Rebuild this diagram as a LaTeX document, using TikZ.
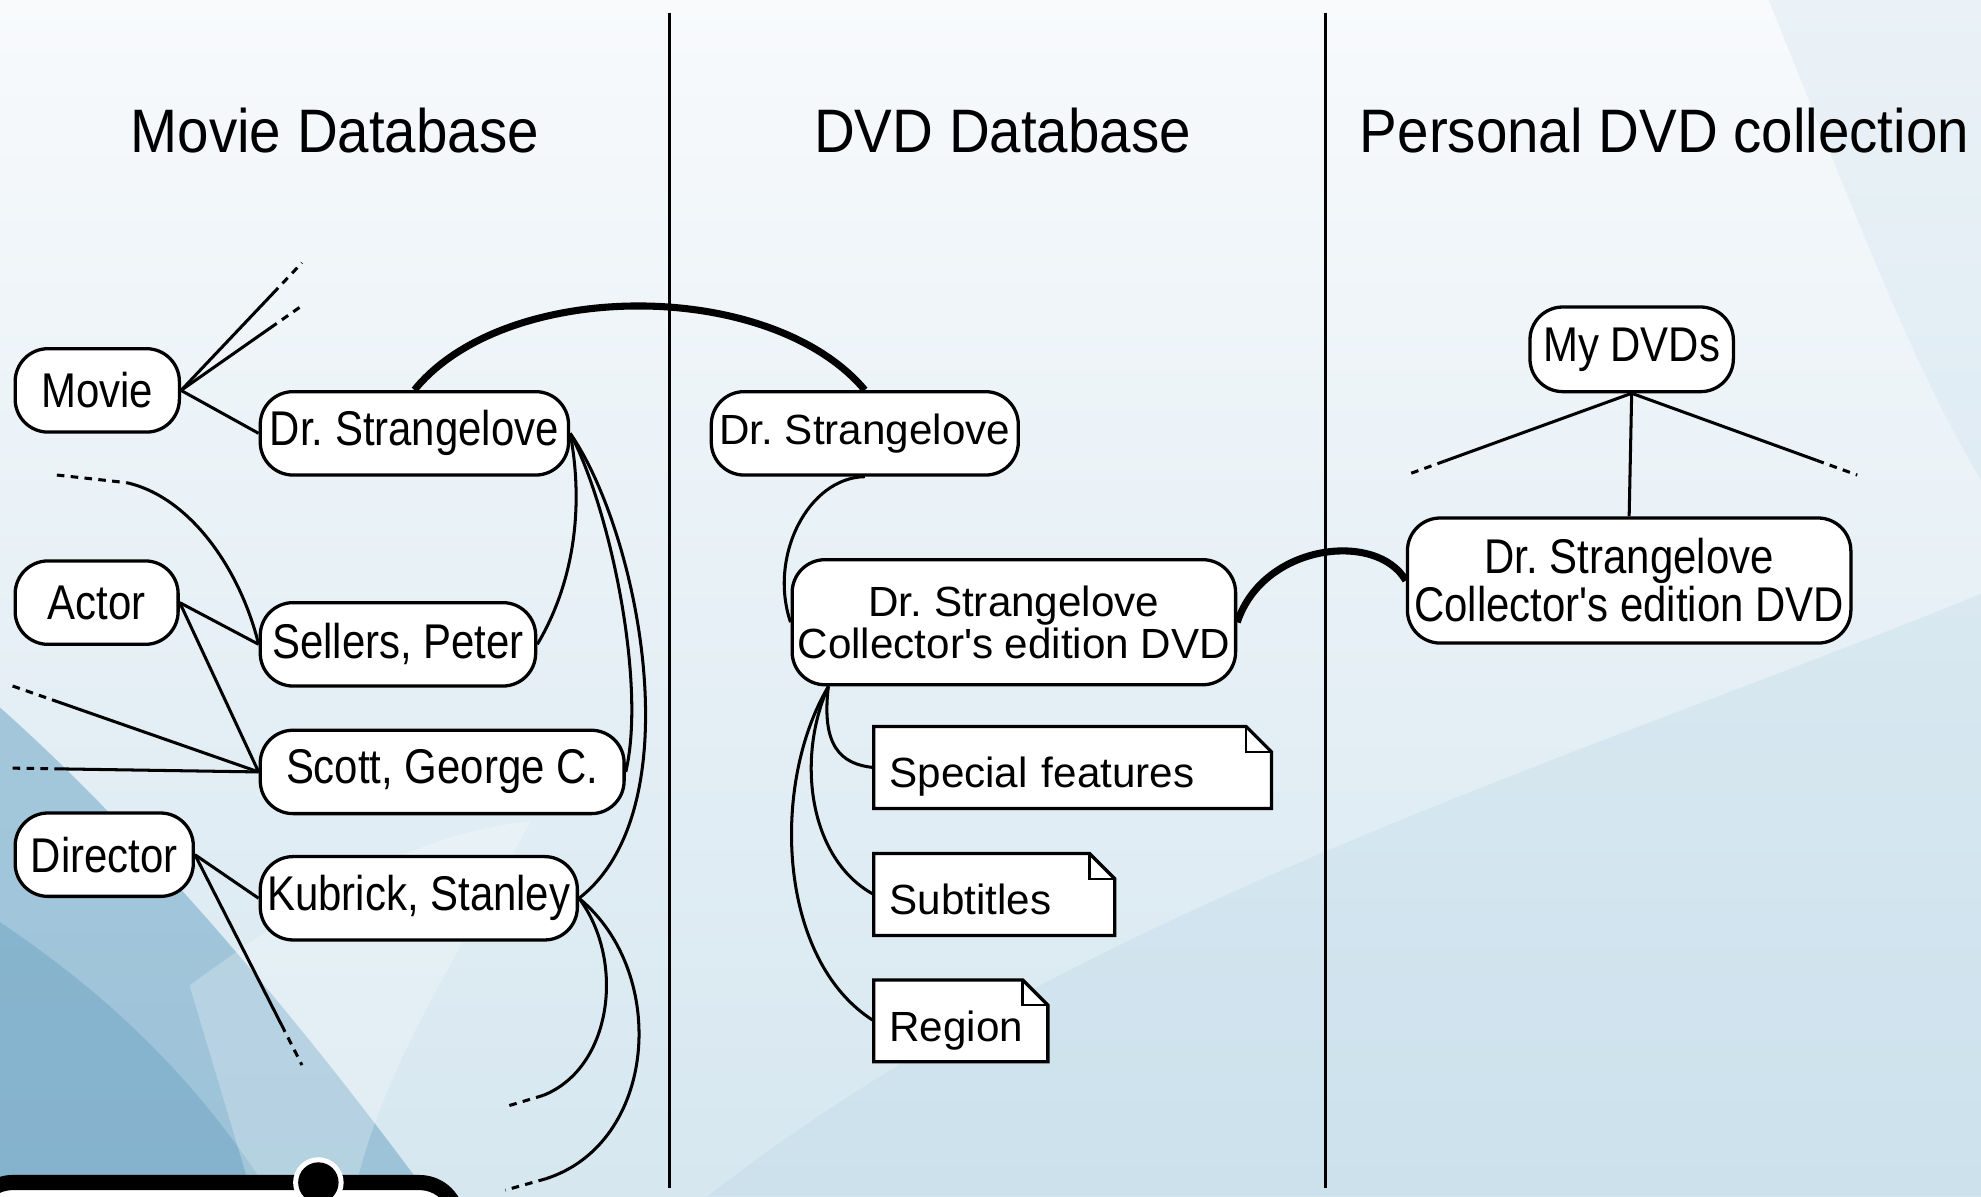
\documentclass[tikz,border=0pt]{standalone}
\usepackage{fontspec}
\setmainfont{Liberation Sans}
\newfontfamily\condfont[FakeStretch=0.86]{Liberation Sans}
\newfontfamily\titlefont[FakeStretch=0.92]{Liberation Sans}
\newfontfamily\plainfont{Liberation Sans}
\usetikzlibrary{calc}
\pgfdeclarelayer{bg}
\pgfdeclarelayer{edges}
\pgfdeclarelayer{notes}
\pgfsetlayers{bg,edges,notes,main}
\definecolor{bgtop}{HTML}{F8FAFC}
\definecolor{bgbot}{HTML}{D6E7F0}
\definecolor{blueA}{HTML}{6FA6C6}
\definecolor{blueB}{HTML}{4F8DB3}
\definecolor{blueC}{HTML}{B5D4E5}
\tikzset{
  box/.style={draw=black, fill=white, line width=1.3pt, rounded corners=13pt, minimum height=33pt, inner sep=2pt},
  condtext/.style={font=\condfont\fontsize{19.3}{16.5}\selectfont},
  midtext/.style={font=\plainfont\fontsize{16.7}{16.5}\selectfont},
  titletext/.style={font=\titlefont\fontsize{24.3}{26}\selectfont, anchor=base},
  conn/.style={line width=1.2pt, draw=black},
  heavyconn/.style={line width=2.8pt, draw=black},
  tail/.style={line width=1.2pt, draw=black, dash pattern=on 3pt off 2.5pt},
  notebox/.style={minimum height=32pt, inner xsep=6pt, inner ysep=0pt, text height=16pt, text depth=0pt, align=left, midtext},
  sep/.style={line width=1pt, draw=black}
}
\begin{document}
\frenchspacing
\begin{tikzpicture}[x=0.5pt, y=-0.5pt]
\useasboundingbox (0,0) rectangle (1568,947);
\begin{pgfonlayer}{bg}
\begin{scope}
\clip (0,0) rectangle (1568,947);
\fill[top color=bgtop, bottom color=bgbot] (0,0) rectangle (1568,947);
\fill[blueC, opacity=.28] (560,947) .. controls (850,720) and (1250,600) .. (1568,470) -- (1568,947) -- cycle;
\fill[blueC, opacity=.2] (1400,0) .. controls (1480,200) and (1520,300) .. (1568,380) -- (1568,0) -- cycle;
\fill[blueA, opacity=.55] (0,560) .. controls (90,640) and (210,770) .. (340,947) -- (0,947) -- cycle;
\fill[blueB, opacity=.3] (0,730) .. controls (90,790) and (160,860) .. (215,947) -- (0,947) -- cycle;
\fill[white, opacity=.25] (150,780) .. controls (260,700) and (330,660) .. (420,650) .. controls (360,760) and (300,850) .. (280,947) -- (200,947) -- cycle;
\draw[line width=6pt, fill=white, rounded corners=15pt] (-20,936) rectangle (362,1010);
\fill[white] (252,936) circle (20);
\fill[black] (252,936) circle (16);
\end{scope}
\end{pgfonlayer}

% separators
\draw[sep] (530,10) -- (530,940);
\draw[sep] (1049,10) -- (1049,940);

% titles
\node[titletext] (t1) at (265,121) {Movie Database};
\node[titletext] (t2) at (793.5,121) {DVD Database};
\node[titletext] (t3) at (1317.5,121) {Personal DVD collection};

% movie database
\node[box, condtext, minimum width=65pt] (movie) at (77,309) {Movie};
\node[box, condtext, minimum width=122pt] (drsm) at (328,343) {Dr. Strangelove};
\node[box, condtext, minimum width=64.5pt] (actor) at (76.5,477) {Actor};
\node[box, condtext, minimum width=109pt] (sellers) at (315,510) {Sellers, Peter};
\node[box, condtext, minimum width=144pt] (scott) at (350,611) {Scott, George C.};
\node[box, condtext, minimum width=70.5pt] (director) at (82.5,676.5) {Director};
\node[box, condtext, minimum width=125.5pt] (kubrick) at (331.5,711) {Kubrick, Stanley};

% dvd database
\node[box, midtext, minimum width=121.5pt] (drsd) at (684.5,343) {Dr. Strangelove};
\node[box, midtext, minimum width=175.5pt, minimum height=49.5pt, align=center] (colld) at (802.5,492.5) {Dr. Strangelove\\Collector's edition DVD};
\node[notebox, text width=145pt] (sf) at (849,607.5) {Special features};
\node[notebox, text width=83pt] (sub) at (787,708) {Subtitles};
\node[notebox, text width=56.5pt] (reg) at (760.5,808) {Region};

% personal collection
\node[box, condtext, minimum width=80.5pt, minimum height=33.5pt] (mydvds) at (1291.5,276.5) {My DVDs};
\node[box, condtext, minimum width=175.5pt, minimum height=49.5pt, align=center] (collp) at (1289.5,459.5) {Dr. Strangelove\\Collector's edition DVD};

% free ends
\coordinate (m1) at (239,208);
\coordinate (m2) at (239,242);
\coordinate (a1) at (45,376);
\coordinate (a1s) at (100,382);
\coordinate (s1) at (10,543);
\coordinate (s2) at (10,608);
\coordinate (d1) at (239,843);
\coordinate (k1s) at (430,867);
\coordinate (k1) at (400,876);
\coordinate (k2s) at (432,933);
\coordinate (k2) at (400,942);
\coordinate (p1) at (1113,376);
\coordinate (p2) at (1470,376);
\coordinate (cs) at ([xshift=15pt]colld.south west);

\begin{pgfonlayer}{notes}
\foreach \n in {sf,sub,reg} {
  \draw[line width=1.3pt, fill=white] (\n.south west) -- (\n.north west) -- ([xshift=-10pt]\n.north east) -- ([yshift=-10pt]\n.north east) -- (\n.south east) -- cycle;
  \draw[line width=0.9pt] ([xshift=-10pt]\n.north east) |- ([yshift=-10pt]\n.north east);
}
\end{pgfonlayer}

\begin{pgfonlayer}{edges}
% movie
\draw[conn] (movie.east) -- (drsm.west);
\draw[conn] (movie.east) -- ($(movie.east)!0.76!(m1)$) coordinate (m1s);
\draw[tail] (m1s) -- (m1);
\draw[conn] (movie.east) -- ($(movie.east)!0.74!(m2)$) coordinate (m2s);
\draw[tail] (m2s) -- (m2);
% actor
\draw[conn] (actor.east) -- (sellers.west);
\draw[conn] (actor.east) -- (scott.west);
\draw[tail] (a1) -- (a1s);
\draw[conn] (a1s) .. controls (150,393) and (190,450) .. (sellers.west);
\draw[tail] (s1) -- ($(s1)!0.16!(scott.west)$) coordinate (s1s);
\draw[conn] (s1s) -- (scott.west);
\draw[tail] (s2) -- ($(s2)!0.18!(scott.west)$) coordinate (s2s);
\draw[conn] (s2s) -- (scott.west);
% director
\draw[conn] (director.east) -- (kubrick.west);
\draw[conn] (director.east) -- ($(director.east)!0.81!(d1)$) coordinate (d1s);
\draw[tail] (d1s) -- (d1);
% movie to people
\draw[conn] (drsm.east) .. controls (462,400) and (455,460) .. (sellers.east);
\draw[conn] (drsm.east) .. controls (482,400) and (512,540) .. (scott.east);
\draw[conn] (drsm.east) .. controls (505,420) and (550,640) .. (kubrick.east);
% kubrick tails
\draw[conn] (kubrick.east) .. controls (495,760) and (485,845) .. (k1s);
\draw[tail] (k1s) -- (k1);
\draw[conn] (kubrick.east) .. controls (530,770) and (520,905) .. (k2s);
\draw[tail] (k2s) -- (k2);
% cross-database links
\draw[heavyconn] (drsm.north) .. controls (400,220) and (610,220) .. (drsd.north);
\draw[heavyconn] (colld.east) .. controls (1000,430) and (1090,420) .. (collp.west);
% dvd database
\draw[conn] (drsd.south) .. controls (640,378) and (608,440) .. (colld.west);
\draw[conn] (cs) .. controls (650,590) and (665,605) .. (sf.west);
\draw[conn] (cs) .. controls (630,600) and (640,680) .. (sub.west);
\draw[conn] (cs) .. controls (610,620) and (615,760) .. (reg.west);
% personal
\draw[conn] (mydvds.south) -- (collp.north);
\draw[conn] (mydvds.south) -- ($(mydvds.south)!0.83!(p1)$) coordinate (p1s);
\draw[tail] (p1s) -- (p1);
\draw[conn] (mydvds.south) -- ($(mydvds.south)!0.82!(p2)$) coordinate (p2s);
\draw[tail] (p2s) -- (p2);
\end{pgfonlayer}
\end{tikzpicture}
\end{document}
